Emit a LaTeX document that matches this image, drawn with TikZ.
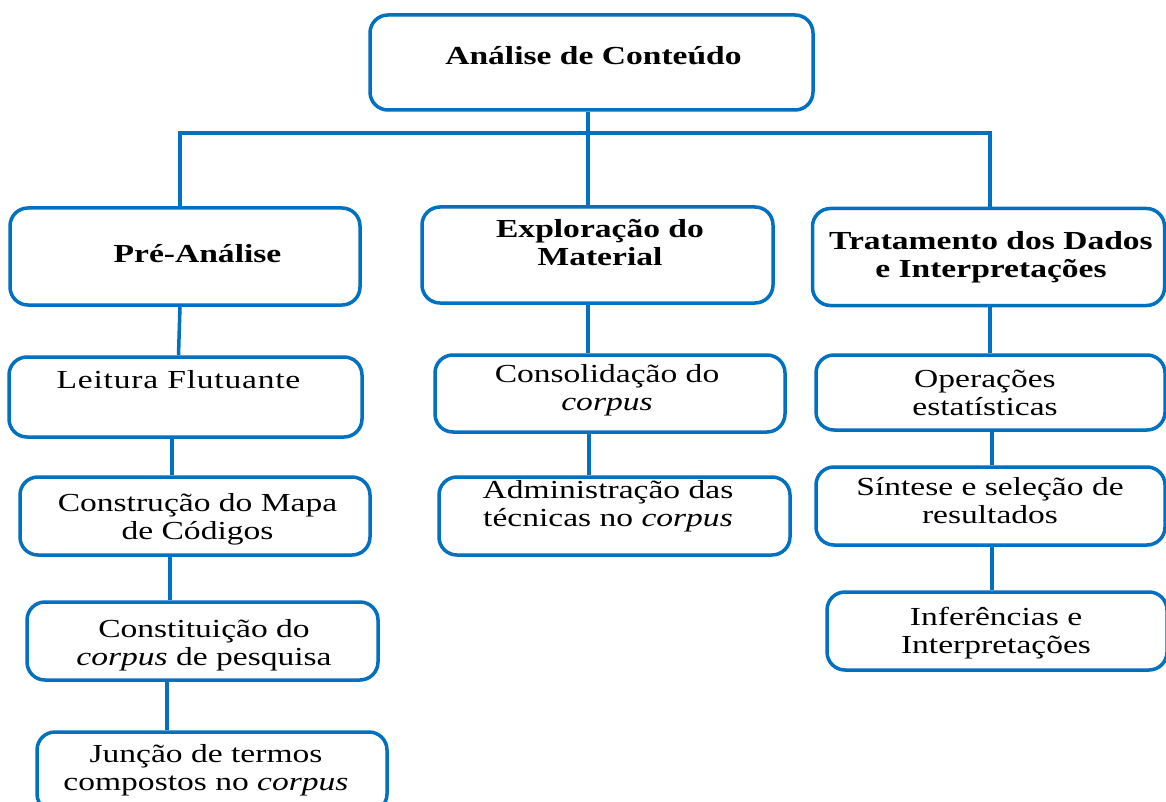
\documentclass[tikz,border=0pt]{standalone}
\usepackage{fontspec}
\setmainfont[FakeStretch=1.29]{Liberation Serif}
\usetikzlibrary{calc}
\definecolor{boxblue}{RGB}{0,112,192}
\begin{document}
\begin{tikzpicture}[x=1pt,y=-1pt,
  boxframe/.style={draw=boxblue, line width=3.5pt, rounded corners=18pt, fill=white, inner sep=0pt},
  conn/.style={draw=boxblue, line width=3.5pt},
  txt/.style={inner sep=0pt, align=center, font=\fontsize{26}{28}\selectfont},
  btxt/.style={inner sep=0pt, align=center, font=\fontsize{26}{28}\selectfont\bfseries}]
\path[use as bounding box, fill=white] (0,0) rectangle (1166,802);
\clip (0,0) rectangle (1166,802);

% box nodes
\node[boxframe, minimum width=443pt, minimum height=95pt] (top) at (591.5,62.5) {};
\node[boxframe, minimum width=350pt, minimum height=97pt] (pre) at (185,256.5) {};
\node[boxframe, minimum width=351pt, minimum height=96pt] (ex) at (597.5,255) {};
\node[boxframe, minimum width=352pt, minimum height=97pt] (trat) at (988.5,257) {};
\node[boxframe, minimum width=353pt, minimum height=80pt] (leit) at (185.5,397) {};
\node[boxframe, minimum width=350pt, minimum height=78pt] (cons) at (195,516) {};
\node[boxframe, minimum width=351pt, minimum height=78pt] (const) at (202.5,641) {};
\node[boxframe, minimum width=350pt, minimum height=80pt] (junc) at (212,772) {};
\node[boxframe, minimum width=350pt, minimum height=77pt] (consol) at (610,393.5) {};
\node[boxframe, minimum width=351pt, minimum height=78pt] (adm) at (614.5,516) {};
\node[boxframe, minimum width=349pt, minimum height=75pt] (oper) at (990.5,392.5) {};
\node[boxframe, minimum width=349pt, minimum height=78pt] (sint) at (990.5,506) {};
\node[boxframe, minimum width=340pt, minimum height=78pt] (infer) at (997,631) {};

% connectors
\coordinate (busL) at (180,133);
\coordinate (busR) at (990,133);
\draw[conn] ([xshift=-5pt]pre.north) -- (busL) -- (busR) -- ([xshift=1.5pt]trat.north);
\draw[conn] ([xshift=-3.5pt]top.south) -- ([xshift=-9.5pt]ex.north);
\draw[conn] ([xshift=-5pt]pre.south) -- ([xshift=-7pt]leit.north);
\draw[conn] ([xshift=-13.5pt]leit.south) -- ([xshift=-23pt]cons.north);
\draw[conn] ([xshift=-25pt]cons.south) -- ([xshift=-32.5pt]const.north);
\draw[conn] ([xshift=-35.5pt]const.south) -- ([xshift=-45pt]junc.north);
\draw[conn] ([xshift=-9.5pt]ex.south) -- ([xshift=-22pt]consol.north);
\draw[conn] ([xshift=-21pt]consol.south) -- ([xshift=-25.5pt]adm.north);
\draw[conn] ([xshift=1.5pt]trat.south) -- ([xshift=-0.5pt]oper.north);
\draw[conn] ([xshift=1.5pt]oper.south) -- ([xshift=1.5pt]sint.north);
\draw[conn] ([xshift=1.5pt]sint.south) -- ([xshift=-5pt]infer.north);

% texts
\node[btxt, anchor=base] (topT) at (593.5,65) {Análise de Conteúdo};
\node[btxt, anchor=base] (preT) at (197.5,262) {Pré-Análise};
\node[btxt] (exT) at (600,242.5) {Exploração do\\Material};
\node[btxt] (tratT) at (991,256.8) {Tratamento dos Dados\\e Interpretações};
\node[txt, anchor=base] (leitT) at (178.5,388) {\addfontfeature{LetterSpace=3}Leitura Flutuante};
\node[txt] (consT) at (197.5,519.7) {Construção do Mapa\\de Códigos};
\node[txt] (constT) at (204,645.7) {Constituição do\\\textit{corpus} de pesquisa};
\node[txt] (juncT) at (206,770.7) {Junção de termos\\compostos no \textit{corpus}};
\node[txt] (consolT) at (607,390.7) {Consolidação do\\\textit{corpus}};
\node[txt] (admT) at (608,506.2) {Administração das\\técnicas no \textit{corpus}};
\node[txt] (operT) at (985,392.5) {Operações\\estatísticas};
\node[txt] (sintT) at (990,501) {Síntese e seleção de\\resultados};
\node[txt] (inferT) at (996,633) {Inferências e\\Interpretações};
\end{tikzpicture}
\end{document}
